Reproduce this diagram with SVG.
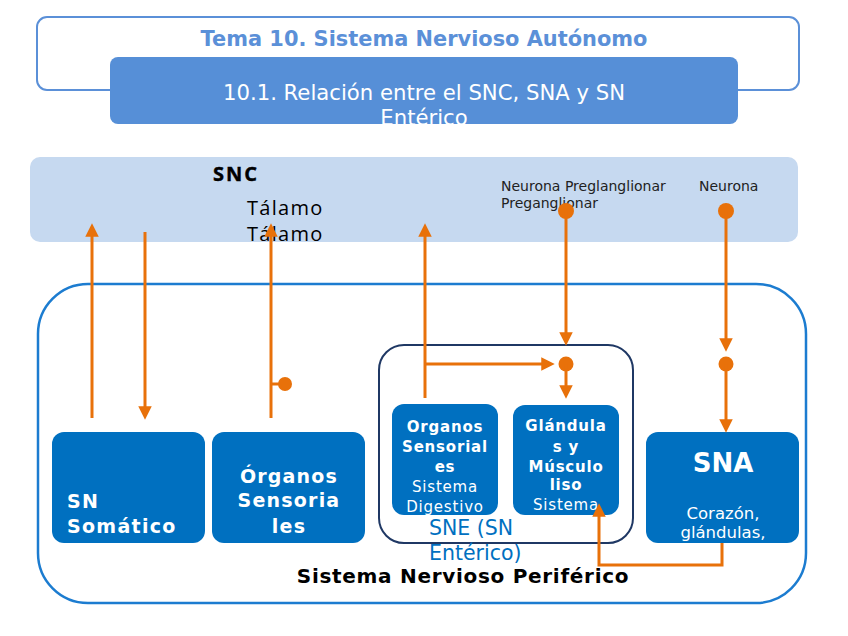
<svg xmlns="http://www.w3.org/2000/svg" width="848" height="636" viewBox="0 0 848 636">
<defs>
<style>
.o{stroke:#E8710A;stroke-width:3;fill:none}
.dot{fill:#E8710A}
.box{fill:#0070C0}
.w{fill:#fff;font-family:"DejaVu Sans",sans-serif}
.b{font-weight:bold}
</style>
<marker id="ah" viewBox="0 0 10 10" refX="5" refY="5" markerWidth="4.5" markerHeight="4.5" orient="auto-start-reverse" markerUnits="strokeWidth">
<path d="M0,0 L10,5 L0,10 z" fill="#E8710A"/>
</marker>
<clipPath id="subclip"><rect x="110" y="57" width="628" height="67" rx="8"/></clipPath>
</defs>
<rect width="848" height="636" fill="#fff"/>
<g id="title">
<rect x="37" y="17" width="762" height="73" rx="10" fill="#fff" stroke="#5B90D8" stroke-width="2"/>
<text x="424" y="46" text-anchor="middle" font-family="DejaVu Sans" font-weight="bold" font-size="20.9" fill="#5B90D8">Tema 10. Sistema Nervioso Autónomo</text>
</g>
<g id="subtitle">
<rect x="110" y="57" width="628" height="67" rx="8" fill="#568FD7"/>
<g clip-path="url(#subclip)">
<text x="424" y="100" text-anchor="middle" class="w" font-size="21.2">10.1. Relación entre el SNC, SNA y SN</text>
<text x="424" y="125" text-anchor="middle" class="w" font-size="21.2">Entérico</text>
</g>
</g>
<g id="snc">
<rect x="30" y="157" width="768" height="85" rx="10" fill="#C6D9F0"/>
<text x="213" y="181" font-family="Open Sans" font-weight="bold" font-size="20" letter-spacing="2" stroke="#000" stroke-width="0.4">SNC</text>
<text x="247" y="215" font-family="Open Sans" font-size="20" letter-spacing="1.3">Tálamo</text>
<text x="247" y="241" font-family="Open Sans" font-size="20" letter-spacing="1.3">Tálamo</text>
<text x="501" y="191" font-family="DejaVu Sans" font-size="14" fill="#222">Neurona Preglanglionar</text>
<text x="501" y="208" font-family="DejaVu Sans" font-size="14" fill="#222">Preganglionar</text>
<text x="699" y="191" font-family="DejaVu Sans" font-size="14" fill="#222">Neurona</text>
</g>
<g id="snp">
<rect x="38" y="284" width="768" height="319" rx="50" fill="none" stroke="#1C7CD0" stroke-width="2.5"/>
<text x="463" y="583" text-anchor="middle" font-family="DejaVu Sans" font-weight="bold" font-size="20" letter-spacing="0.7">Sistema Nervioso Periférico</text>
</g>
<g id="sne">
<rect x="379" y="345" width="254" height="198" rx="25" fill="none" stroke="#1F3864" stroke-width="2"/>
<text x="429" y="535" font-family="DejaVu Sans" font-size="20.5" fill="#0070C0">SNE (SN</text>
<text x="429" y="560" font-family="DejaVu Sans" font-size="20.5" fill="#0070C0">Entérico)</text>
</g>
<g id="sn-somatico">
<rect class="box" x="52" y="432" width="153" height="111" rx="12"/>
<text class="w b" x="67" y="508" font-size="19" letter-spacing="1.3">SN</text>
<text class="w b" x="67" y="533" font-size="19" letter-spacing="1.3">Somático</text>
</g>
<g id="organos-sensoriales">
<rect class="box" x="212" y="432" width="153" height="111" rx="12"/>
<text class="w b" x="289" y="483" font-size="19" text-anchor="middle" letter-spacing="1.2">Órganos</text>
<text class="w b" x="289" y="507" font-size="19" text-anchor="middle" letter-spacing="1.2">Sensoria</text>
<text class="w b" x="289" y="533" font-size="19" text-anchor="middle" letter-spacing="1.2">les</text>
</g>
<g id="organos-sne">
<rect class="box" x="392" y="404" width="106" height="111" rx="12"/>
<text class="w b" x="445" y="432" font-size="15" text-anchor="middle" letter-spacing="0.8">Organos</text>
<text class="w b" x="445" y="452" font-size="15" text-anchor="middle" letter-spacing="0.8">Sensorial</text>
<text class="w b" x="445" y="472" font-size="15" text-anchor="middle" letter-spacing="0.8">es</text>
<text class="w" x="445" y="492" font-size="15" text-anchor="middle" letter-spacing="0.8">Sistema</text>
<text class="w" x="445" y="512" font-size="15" text-anchor="middle" letter-spacing="0.8">Digestivo</text>
</g>
<g id="glandulas">
<rect class="box" x="513" y="405" width="106" height="110" rx="12"/>
<text class="w b" x="566" y="431" font-size="15" text-anchor="middle" letter-spacing="0.8">Glándula</text>
<text class="w b" x="566" y="452" font-size="15" text-anchor="middle" letter-spacing="0.8">s y</text>
<text class="w b" x="566" y="472" font-size="15" text-anchor="middle" letter-spacing="0.8">Músculo</text>
<text class="w b" x="566" y="490" font-size="15" text-anchor="middle" letter-spacing="0.8">liso</text>
<text class="w" x="566" y="510" font-size="15" text-anchor="middle" letter-spacing="0.8">Sistema</text>
</g>
<g id="sna">
<rect class="box" x="646" y="432" width="153" height="111" rx="12"/>
<text class="w b" x="723" y="472" font-size="26" text-anchor="middle">SNA</text>
<text class="w" x="723" y="519" font-size="16.5" text-anchor="middle">Corazón,</text>
<text class="w" x="723" y="538" font-size="16.5" text-anchor="middle">glándulas,</text>
</g>
<g id="connectors">
<line class="o" x1="92" y1="418" x2="92" y2="230" marker-end="url(#ah)"/>
<line class="o" x1="145" y1="232" x2="145" y2="413" marker-end="url(#ah)"/>
<line class="o" x1="271" y1="418" x2="271" y2="230" marker-end="url(#ah)"/>
<line class="o" x1="271" y1="384" x2="280" y2="384"/>
<circle class="dot" cx="285" cy="384" r="7"/>
<line class="o" x1="425" y1="398" x2="425" y2="230" marker-end="url(#ah)"/>
<line class="o" x1="425" y1="364" x2="548" y2="364" marker-end="url(#ah)"/>
<circle class="dot" cx="566" cy="364" r="7.5"/>
<line class="o" x1="566" y1="364" x2="566" y2="392" marker-end="url(#ah)"/>
<circle class="dot" cx="566" cy="211" r="8"/>
<line class="o" x1="566" y1="211" x2="566" y2="339" marker-end="url(#ah)"/>
<circle class="dot" cx="726" cy="211" r="8"/>
<line class="o" x1="726" y1="211" x2="726" y2="345" marker-end="url(#ah)"/>
<circle class="dot" cx="726" cy="364" r="7.5"/>
<line class="o" x1="726" y1="364" x2="726" y2="426" marker-end="url(#ah)"/>
<polyline class="o" points="722,543 722,565 599,565 599,510" marker-end="url(#ah)"/>
</g>
</svg>
